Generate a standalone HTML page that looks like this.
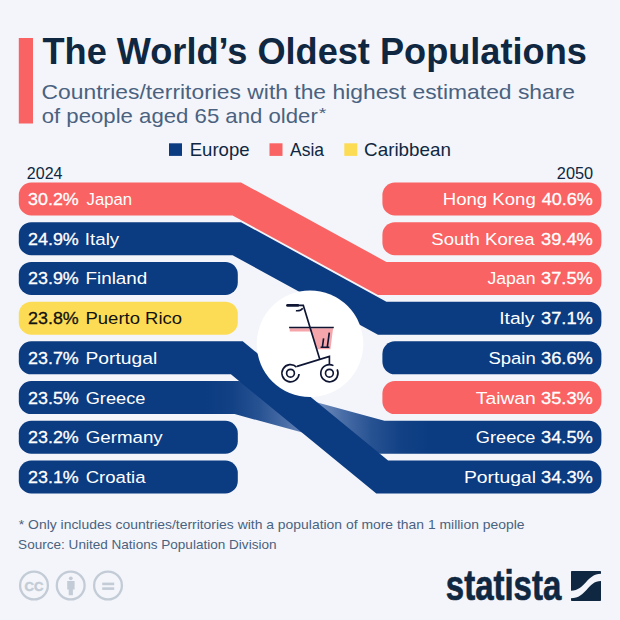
<!DOCTYPE html>
<html><head><meta charset="utf-8"><title>The World’s Oldest Populations</title>
<style>html,body{margin:0;padding:0;background:#f3f5fa;}svg{display:block;font-family:"Liberation Sans",sans-serif;}</style></head>
<body>
<svg width="620" height="620" viewBox="0 0 620 620">
<rect width="620" height="620" fill="#f3f5fa"/>
<defs><linearGradient id="gg" gradientUnits="userSpaceOnUse" x1="205" y1="0" x2="430" y2="0"><stop offset="0" stop-color="#0b3b81"/><stop offset="0.12" stop-color="#124185"/><stop offset="0.24" stop-color="#275292"/><stop offset="0.36" stop-color="#4a6ea7"/><stop offset="0.48" stop-color="#7b95c4"/><stop offset="0.61" stop-color="#4a6ea7"/><stop offset="0.74" stop-color="#275292"/><stop offset="0.87" stop-color="#124185"/><stop offset="1" stop-color="#0b3b81"/></linearGradient></defs>
<rect x="18.8" y="38" width="14.2" height="85.5" fill="#f96363"/>
<rect x="169" y="143.3" width="13" height="12.6" fill="#0b3b81"/>
<rect x="269.5" y="143.3" width="13" height="12.6" fill="#f96363"/>
<rect x="344.3" y="143.3" width="13" height="12.6" fill="#fddc55"/>
<rect x="382.4" y="182.50" width="219.0" height="33" rx="12.5" fill="#f96363"/>
<rect x="382.4" y="222.21" width="219.0" height="33" rx="12.5" fill="#f96363"/>
<rect x="18.8" y="261.93" width="219.0" height="33" rx="12.5" fill="#0b3b81"/>
<rect x="18.8" y="301.64" width="219.0" height="33" rx="12.5" fill="#fddc55"/>
<rect x="382.4" y="341.36" width="219.0" height="33" rx="12.5" fill="#0b3b81"/>
<rect x="382.4" y="381.07" width="219.0" height="33" rx="12.5" fill="#f96363"/>
<rect x="18.8" y="420.78" width="219.0" height="33" rx="12.5" fill="#0b3b81"/>
<rect x="18.8" y="460.50" width="219.0" height="33" rx="12.5" fill="#0b3b81"/>
<path d="M31.30 381.07 H239.01 L384.41 420.78 H588.90 A12.5 12.5 0 0 1 601.40 433.28 V441.28 A12.5 12.5 0 0 1 588.90 453.78 H379.99 L234.59 414.07 H31.30 A12.5 12.5 0 0 1 18.80 401.57 V393.57 A12.5 12.5 0 0 1 31.30 381.07 Z" fill="url(#gg)"/>
<path d="M31.30 341.36 H242.70 L388.10 460.50 H588.90 A12.5 12.5 0 0 1 601.40 473.00 V481.00 A12.5 12.5 0 0 1 588.90 493.50 H376.30 L230.90 374.36 H31.30 A12.5 12.5 0 0 1 18.80 361.86 V353.86 A12.5 12.5 0 0 1 31.30 341.36 Z" fill="#0b3b81"/>
<path d="M31.30 222.21 H241.01 L386.41 301.64 H588.90 A12.5 12.5 0 0 1 601.40 314.14 V322.14 A12.5 12.5 0 0 1 588.90 334.64 H377.99 L232.59 255.21 H31.30 A12.5 12.5 0 0 1 18.80 242.71 V234.71 A12.5 12.5 0 0 1 31.30 222.21 Z" fill="#0b3b81"/>
<path d="M31.30 182.50 H241.01 L386.41 261.93 H588.90 A12.5 12.5 0 0 1 601.40 274.43 V282.43 A12.5 12.5 0 0 1 588.90 294.93 H377.99 L232.59 215.50 H31.30 A12.5 12.5 0 0 1 18.80 203.00 V195.00 A12.5 12.5 0 0 1 31.30 182.50 Z" fill="#f96363"/>
<circle cx="310" cy="343.8" r="53.3" fill="#ffffff"/>
<g fill="none" stroke="#0e1633" stroke-width="1.65" stroke-linecap="butt" stroke-linejoin="miter">
<path d="M289.7 328.2 H333.1 L330.4 349.3 H317 L310.9 331.6 H289.7 Z" fill="#f6a6aa" stroke="none"/>
<path d="M287.5 305.4 H297.8" stroke-width="2.7" stroke-linecap="round"/>
<path d="M298 305.4 H303.3 L319.7 358.9"/>
<path d="M295.9 310.7 Q300.5 311.2 302.8 308.2"/>
<path d="M289.1 327.5 H333.8" stroke-width="1.4"/>
<path d="M323.6 338.4 L322.4 347 M329.3 332.6 L327.3 347 M320.6 347.2 H329.3"/>
<path d="M297 366.4 L329.4 356.4 V364.4"/>
<path d="M299.07 373.95 A8.6 8.6 0 1 1 296.58 367.12"/>
<circle cx="290.5" cy="373.2" r="3.9"/>
<path d="M337.13 369.43 A8.6 8.6 0 1 1 333.44 365.61"/>
<circle cx="329.4" cy="373.2" r="3.9"/>
</g>
<g fill="none" stroke="#c3ccd6" stroke-width="2.3">
<circle cx="34" cy="585.5" r="13.9"/>
<circle cx="70.7" cy="585.5" r="13.9"/>
<circle cx="108" cy="585.5" r="13.9"/>
</g>
<g fill="#c3ccd6">
<text x="24.6" y="591" font-size="13.5" font-weight="bold" stroke="#c3ccd6" stroke-width="0.5" textLength="18.8" lengthAdjust="spacingAndGlyphs">CC</text>
<circle cx="70.8" cy="578.3" r="1.9"/><path d="M67.2 581 H74.6 V589.4 H72.9 V595.2 H68.7 V589.4 H67.2 Z"/>
<rect x="102.2" y="582.6" width="12" height="2.6"/><rect x="102.2" y="587.3" width="12" height="2.6"/>
</g>
<g fill="#0f2741">
<path d="M571.8 571 H600.2 Q601 571 601 571.8 V573.8 C586.5 573.8 585.5 590.7 571 590.7 V571.8 Q571 571 571.8 571 Z"/>
<path d="M571 598.2 C586.5 598.2 587.5 580.9 601 580.9 V600.2 Q601 601 600.2 601 H571.8 Q571 601 571 600.2 Z"/>
</g>
<text x="42.51" y="63.70" font-size="36.0" font-weight="bold" fill="#0f2741" textLength="544.33" lengthAdjust="spacingAndGlyphs">The World’s Oldest Populations</text>
<text x="41.59" y="99.20" font-size="21.0" fill="#4a6280" textLength="533.5" lengthAdjust="spacingAndGlyphs">Countries/territories with the highest estimated share</text>
<text x="41.72" y="123.00" font-size="21.0" fill="#4a6280" textLength="276.08" lengthAdjust="spacingAndGlyphs">of people aged 65 and older</text>
<text x="318.8" y="117.9" font-size="15" fill="#4a6280" textLength="7.6" lengthAdjust="spacingAndGlyphs">*</text>
<text x="189.71" y="155.75" font-size="17.8" fill="#0f2741" textLength="59.87" lengthAdjust="spacingAndGlyphs">Europe</text>
<text x="290.04" y="155.75" font-size="17.8" fill="#0f2741" textLength="33.94" lengthAdjust="spacingAndGlyphs">Asia</text>
<text x="364.1" y="155.75" font-size="17.8" fill="#0f2741" textLength="86.86" lengthAdjust="spacingAndGlyphs">Caribbean</text>
<text x="26.83" y="179.00" font-size="16.6" fill="#0f2741" textLength="35.68" lengthAdjust="spacingAndGlyphs">2024</text>
<text x="556.82" y="179.00" font-size="16.6" fill="#0f2741" textLength="36.3" lengthAdjust="spacingAndGlyphs">2050</text>
<text x="28.07" y="205.00" font-size="16.6" fill="#ffffff" stroke="#ffffff" stroke-width="0.3" textLength="50.73" lengthAdjust="spacingAndGlyphs">30.2%</text>
<text x="86.61" y="205.00" font-size="16.8" fill="#ffffff" textLength="45.56" lengthAdjust="spacingAndGlyphs">Japan</text>
<text x="28.07" y="244.71" font-size="16.6" fill="#ffffff" stroke="#ffffff" stroke-width="0.3" textLength="50.72" lengthAdjust="spacingAndGlyphs">24.9%</text>
<text x="84.84" y="244.71" font-size="16.8" fill="#ffffff" textLength="34.37" lengthAdjust="spacingAndGlyphs">Italy</text>
<text x="28.07" y="284.43" font-size="16.6" fill="#ffffff" stroke="#ffffff" stroke-width="0.3" textLength="50.72" lengthAdjust="spacingAndGlyphs">23.9%</text>
<text x="85.49" y="284.43" font-size="16.8" fill="#ffffff" textLength="61.77" lengthAdjust="spacingAndGlyphs">Finland</text>
<text x="28.07" y="324.14" font-size="16.6" fill="#111111" stroke="#111111" stroke-width="0.3" textLength="50.72" lengthAdjust="spacingAndGlyphs">23.8%</text>
<text x="85.51" y="324.14" font-size="16.8" fill="#111111" textLength="96.62" lengthAdjust="spacingAndGlyphs">Puerto Rico</text>
<text x="28.07" y="363.86" font-size="16.6" fill="#ffffff" stroke="#ffffff" stroke-width="0.3" textLength="50.72" lengthAdjust="spacingAndGlyphs">23.7%</text>
<text x="85.47" y="363.86" font-size="16.8" fill="#ffffff" textLength="71.76" lengthAdjust="spacingAndGlyphs">Portugal</text>
<text x="28.07" y="403.57" font-size="16.6" fill="#ffffff" stroke="#ffffff" stroke-width="0.3" textLength="50.72" lengthAdjust="spacingAndGlyphs">23.5%</text>
<text x="85.7" y="403.57" font-size="16.8" fill="#ffffff" textLength="59.67" lengthAdjust="spacingAndGlyphs">Greece</text>
<text x="28.07" y="443.28" font-size="16.6" fill="#ffffff" stroke="#ffffff" stroke-width="0.3" textLength="50.72" lengthAdjust="spacingAndGlyphs">23.2%</text>
<text x="85.68" y="443.28" font-size="16.8" fill="#ffffff" textLength="77.0" lengthAdjust="spacingAndGlyphs">Germany</text>
<text x="28.07" y="483.00" font-size="16.6" fill="#ffffff" stroke="#ffffff" stroke-width="0.3" textLength="50.72" lengthAdjust="spacingAndGlyphs">23.1%</text>
<text x="85.68" y="483.00" font-size="16.8" fill="#ffffff" textLength="59.83" lengthAdjust="spacingAndGlyphs">Croatia</text>
<text x="442.81" y="205.00" font-size="16.8" fill="#ffffff" textLength="92.92" lengthAdjust="spacingAndGlyphs">Hong Kong</text>
<text x="541.75" y="205.00" font-size="16.6" fill="#ffffff" stroke="#ffffff" stroke-width="0.3" textLength="51.1" lengthAdjust="spacingAndGlyphs">40.6%</text>
<text x="431.33" y="244.71" font-size="16.8" fill="#ffffff" textLength="103.37" lengthAdjust="spacingAndGlyphs">South Korea</text>
<text x="541.0" y="244.71" font-size="16.6" fill="#ffffff" stroke="#ffffff" stroke-width="0.3" textLength="51.84" lengthAdjust="spacingAndGlyphs">39.4%</text>
<text x="487.41" y="284.43" font-size="16.8" fill="#ffffff" textLength="48.09" lengthAdjust="spacingAndGlyphs">Japan</text>
<text x="541.0" y="284.43" font-size="16.6" fill="#ffffff" stroke="#ffffff" stroke-width="0.3" textLength="51.84" lengthAdjust="spacingAndGlyphs">37.5%</text>
<text x="499.19" y="324.14" font-size="16.8" fill="#ffffff" textLength="35.31" lengthAdjust="spacingAndGlyphs">Italy</text>
<text x="541.0" y="324.14" font-size="16.6" fill="#ffffff" stroke="#ffffff" stroke-width="0.3" textLength="51.84" lengthAdjust="spacingAndGlyphs">37.1%</text>
<text x="488.54" y="363.86" font-size="16.8" fill="#ffffff" textLength="47.2" lengthAdjust="spacingAndGlyphs">Spain</text>
<text x="541.0" y="363.86" font-size="16.6" fill="#ffffff" stroke="#ffffff" stroke-width="0.3" textLength="51.84" lengthAdjust="spacingAndGlyphs">36.6%</text>
<text x="475.81" y="403.57" font-size="16.8" fill="#ffffff" textLength="60.01" lengthAdjust="spacingAndGlyphs">Taiwan</text>
<text x="541.0" y="403.57" font-size="16.6" fill="#ffffff" stroke="#ffffff" stroke-width="0.3" textLength="51.84" lengthAdjust="spacingAndGlyphs">35.3%</text>
<text x="475.8" y="443.28" font-size="16.8" fill="#ffffff" textLength="59.67" lengthAdjust="spacingAndGlyphs">Greece</text>
<text x="541.0" y="443.28" font-size="16.6" fill="#ffffff" stroke="#ffffff" stroke-width="0.3" textLength="51.84" lengthAdjust="spacingAndGlyphs">34.5%</text>
<text x="463.96" y="483.00" font-size="16.8" fill="#ffffff" textLength="72.07" lengthAdjust="spacingAndGlyphs">Portugal</text>
<text x="541.0" y="483.00" font-size="16.6" fill="#ffffff" stroke="#ffffff" stroke-width="0.3" textLength="51.84" lengthAdjust="spacingAndGlyphs">34.3%</text>
<text x="18.84" y="529.10" font-size="13.3" fill="#4a6280" textLength="505.75" lengthAdjust="spacingAndGlyphs">* Only includes countries/territories with a population of more than 1 million people</text>
<text x="18.13" y="548.50" font-size="13.3" fill="#4a6280" textLength="258.39" lengthAdjust="spacingAndGlyphs">Source: United Nations Population Division</text>
<text x="445.84" y="599.80" font-size="43.0" font-weight="bold" fill="#0f2741" stroke="#0f2741" stroke-width="0.7" textLength="115.39" lengthAdjust="spacingAndGlyphs">statista</text>
</svg>
</body></html>
